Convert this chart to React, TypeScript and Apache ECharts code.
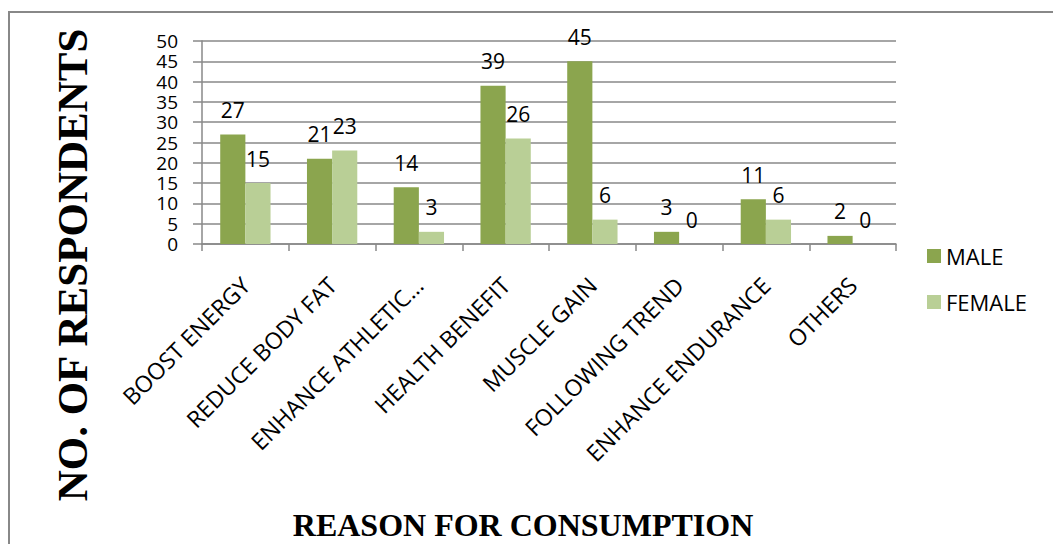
import React, { useEffect, useRef } from "react";
import * as echarts from "echarts";

const categories = [
  "BOOST ENERGY",
  "REDUCE BODY FAT",
  "ENHANCE ATHLETIC…",
  "HEALTH BENEFIT",
  "MUSCLE GAIN",
  "FOLLOWING TREND",
  "ENHANCE ENDURANCE",
  "OTHERS",
];
const maleValues = [27, 21, 14, 39, 45, 3, 11, 2];
const femaleValues = [15, 23, 3, 26, 6, 0, 6, 0];
const yTicks = { min: 0, max: 50, interval: 5 };

const SANS = "'Open Sans', 'Noto Sans', sans-serif";
const SERIF = "'Liberation Serif', 'DejaVu Serif', serif";

export default function App() {
  const ref = useRef<HTMLDivElement>(null);
  useEffect(() => {
    if (!ref.current) return;
    const chart = echarts.init(ref.current, null, { renderer: "svg" });
    const labelStyle = {
      show: true,
      position: "top" as const,
      distance: 14,
      fontFamily: SANS,
      fontSize: 21,
      color: "#000",
    };
    chart.setOption({
      animation: false,
      backgroundColor: "#fff",
      grid: { left: 202, right: 157, top: 41, bottom: 300, containLabel: false },
      legend: {
        orient: "vertical",
        left: 927,
        top: 245,
        padding: 0,
        itemWidth: 14,
        itemHeight: 14,
        itemGap: 24,
        icon: "rect",
        textStyle: { fontFamily: SANS, fontSize: 22, color: "#000" },
        data: ["MALE", "FEMALE"],
      },
      xAxis: {
        type: "category",
        data: categories,
        boundaryGap: true,
        axisLine: { show: true, lineStyle: { color: "#888", width: 1.5 } },
        axisTick: { show: true, length: 7, alignWithLabel: false, lineStyle: { color: "#888", width: 1.5 } },
        axisLabel: {
          interval: 0,
          rotate: 45,
          margin: 37,
          align: "right",
          verticalAlign: "middle",
          fontFamily: SANS,
          fontSize: 23,
          color: "#000",
        },
        splitLine: { show: false },
      },
      yAxis: {
        type: "value",
        min: yTicks.min,
        max: yTicks.max,
        interval: yTicks.interval,
        axisLine: { show: true, lineStyle: { color: "#888", width: 1.5 } },
        axisTick: { show: true, length: 9, lineStyle: { color: "#888", width: 1.5 } },
        axisLabel: {
          margin: 24,
          showMinLabel: true,
          showMaxLabel: true,
          hideOverlap: false,
          fontFamily: SANS,
          fontSize: 19,
          lineHeight: 19,
          color: "#000",
        },
        splitLine: { show: true, lineStyle: { color: "#888", width: 1.5 } },
      },
      series: [
        {
          name: "MALE",
          type: "bar",
          data: maleValues,
          barGap: "0%",
          barCategoryGap: "42%",
          itemStyle: { color: "#8BA54E" },
          label: labelStyle,
        },
        {
          name: "FEMALE",
          type: "bar",
          data: femaleValues,
          barGap: "0%",
          barCategoryGap: "42%",
          itemStyle: { color: "#B9CF96" },
          label: labelStyle,
        },
      ],
      graphic: [
        {
          type: "rect",
          shape: { x: 9, y: 12, width: 1100, height: 600 },
          style: { fill: "none", stroke: "#888", lineWidth: 2 },
          silent: true,
        },
        {
          type: "text",
          x: 72,
          y: 265,
          rotation: Math.PI / 2,
          style: {
            text: "NO. OF RESPONDENTS",
            fontFamily: SERIF,
            fontWeight: "bold",
            fontSize: 43,
            fill: "#000",
            align: "center",
            verticalAlign: "middle",
          },
        },
        {
          type: "text",
          x: 523,
          y: 525,
          style: {
            text: "REASON FOR CONSUMPTION",
            fontFamily: SERIF,
            fontWeight: "bold",
            fontSize: 32,
            fill: "#000",
            align: "center",
            verticalAlign: "middle",
          },
        },
      ],
    });
    return () => chart.dispose();
  }, []);
  return (
    <div
      ref={ref}
      style={{ position: "fixed", left: 0, top: 0, width: 1053, height: 544, background: "#fff" }}
    />
  );
}
